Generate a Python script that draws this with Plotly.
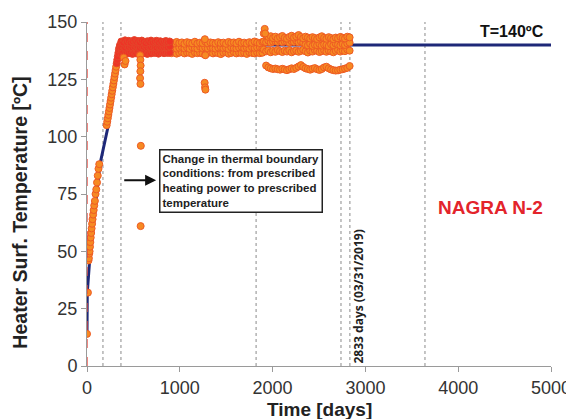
import plotly.graph_objects as go

# ---------------- data ----------------
model_days = [0, 3, 32, 140, 230, 366, 5000]
model_T = [14, 32, 48, 88, 105, 140, 140]

heat_days = [0, 10, 16, 20, 24, 28, 32, 36, 40, 45, 50, 55, 60, 66, 72, 78, 85, 92, 100, 108, 116, 124, 132]
heat_T = [14, 32, 46, 47, 49, 50, 52, 54, 56, 58, 60, 62, 64, 66, 68, 70, 72, 75, 77, 80, 83, 86, 88]

ramp_days = [212, 218, 224, 230, 236, 242, 248, 254, 260, 266, 272, 278, 284, 290, 296, 302, 308, 314]
ramp_T = [105, 106.5, 108, 109.5, 111, 112.5, 114, 115.5, 117, 118.5, 120, 121.5, 123, 124.5, 126, 127.5, 129, 130.5]

red_ramp_days = [320, 326, 332, 338, 344, 350, 356]
red_ramp_T = [132, 133.5, 135, 136.5, 138, 139, 140]

red_days = [370, 390, 410, 430, 450, 470, 490, 510, 530, 550, 570, 590, 610, 630, 650, 670, 690, 710, 730,
            750, 770, 790, 810, 830, 850, 870, 890]
red_hi = [141.5, 141.0, 142.0, 141.2, 141.8, 140.9, 141.6, 142.1, 141.3, 141.7, 141.0, 141.9, 141.4, 140.8,
          141.6, 141.2, 141.9, 141.0, 141.5, 141.8, 141.1, 141.6, 140.9, 141.4, 141.7, 141.2, 141.5]
red_mid = [139.0, 139.4, 138.8, 139.6, 139.1, 139.5, 138.9, 139.3, 139.7, 139.0, 138.7, 139.4, 139.2, 139.6,
           138.9, 139.3, 139.0, 139.5, 139.1, 138.8, 139.4, 139.2, 139.6, 139.0, 139.3, 138.9, 139.4]
red_lo = [136.3, 136.9, 136.0, 136.6, 136.4, 137.0, 136.1, 136.8, 136.3, 137.1, 136.2, 136.7, 136.4, 136.9,
          136.1, 136.6, 136.3, 137.0, 136.5, 136.8, 136.2, 136.7, 136.9, 136.4, 136.8, 136.5, 136.7]

orange_days = [910, 938, 966, 994, 1022, 1050, 1078, 1106, 1134, 1162, 1190, 1218, 1246, 1274, 1302, 1330,
               1358, 1386, 1414, 1442, 1470, 1498, 1526, 1554, 1582, 1610, 1638, 1666, 1694, 1722, 1750,
               1778, 1806, 1834, 1862, 1890]
orange_hi = [141.0, 140.6, 141.3, 140.8, 141.1, 140.5, 141.2, 140.9, 140.7, 141.4, 140.6, 141.0, 140.8, 141.5,
             140.7, 141.1, 140.9, 140.6, 141.2, 140.8, 141.0, 140.5, 141.3, 140.9, 141.1, 140.7, 141.4, 140.8,
             141.0, 140.6, 141.2, 140.9, 141.5, 141.1, 140.8, 141.3]
orange_mid = [138.6, 139.0, 138.4, 138.8, 139.1, 138.5, 138.9, 138.3, 139.0, 138.7, 138.4, 139.2, 138.6, 138.9,
              138.5, 139.0, 138.7, 138.4, 138.9, 139.1, 138.6, 138.8, 138.3, 139.0, 138.7, 138.5, 138.9, 139.2,
              138.6, 138.8, 138.4, 139.0, 138.7, 138.9, 139.1, 138.6]
orange_lo = [136.4, 136.8, 136.2, 136.6, 136.9, 136.3, 136.7, 136.5, 136.1, 136.8, 136.4, 136.6, 136.2, 135.8,
             136.5, 136.9, 136.3, 136.7, 136.4, 136.0, 136.6, 136.8, 136.2, 136.5, 136.9, 136.3, 136.7, 136.4,
             136.6, 136.1, 136.8, 136.5, 136.3, 136.7, 136.4, 136.6]

late_days = [1905, 1930, 1955, 1980, 2005, 2030, 2055, 2080, 2105, 2130, 2155, 2180, 2205, 2230, 2255, 2280,
             2305, 2330, 2355, 2380, 2405, 2430, 2455, 2480, 2505, 2530, 2555, 2580, 2605, 2630, 2655, 2680,
             2705, 2730, 2755, 2780, 2805, 2830]
late_hi = [145.0, 144.2, 143.5, 143.8, 143.0, 143.6, 142.8, 143.4, 143.9, 143.1, 142.7, 143.5, 144.0, 143.2,
           143.7, 144.3, 143.5, 142.9, 143.6, 143.2, 142.8, 143.4, 143.0, 142.6, 143.3, 143.8, 143.1, 142.7,
           143.4, 143.0, 142.5, 143.2, 142.9, 143.5, 143.1, 142.8, 143.6, 143.3]
late_mid = [141.5, 141.2, 141.8, 141.0, 141.4, 141.6, 141.3, 141.7, 141.2, 141.5, 141.4, 141.0, 141.6, 141.3,
            141.8, 141.1, 141.5, 140.9, 140.2, 139.8, 140.5, 139.6, 140.1, 139.9, 140.4, 139.7, 140.2, 140.0,
            139.5, 140.3, 139.9, 140.6, 140.1, 139.8, 140.4, 140.0, 140.7, 141.0]
late_lo = [138.0, 137.2, 137.6, 136.8, 137.4, 137.0, 137.8, 137.3, 136.9, 137.5, 137.1, 137.7, 136.8, 137.3,
           137.6, 137.0, 137.4, 137.9, 137.2, 136.7, 137.5, 137.1, 137.8, 137.4, 136.9, 137.3, 137.7, 137.0,
           137.5, 137.2, 136.8, 137.4, 137.9, 137.1, 137.6, 137.3, 138.0, 137.5]

lower_days = [1930, 1955, 1980, 2005, 2030, 2055, 2080, 2105, 2130, 2155, 2180, 2205, 2230, 2255, 2280, 2305,
              2330, 2355, 2380, 2405, 2430, 2455, 2480, 2505, 2530, 2555, 2580, 2605, 2630, 2655, 2680, 2705,
              2730, 2755, 2780, 2805, 2830]
lower_T = [131.0, 130.2, 129.8, 129.5, 129.7, 129.4, 129.2, 129.6, 129.3, 129.0, 129.4, 129.8, 129.5, 130.0,
           130.6, 131.2, 130.4, 129.8, 129.5, 129.2, 129.6, 129.9, 129.4, 129.1, 129.5, 130.2, 130.5, 129.8,
           129.3, 129.0, 128.8, 128.9, 129.2, 129.4, 129.7, 130.0, 130.8]

out_days = [395, 405, 415, 572, 575, 578, 575, 572, 576, 580, 578, 1268, 1272, 1276, 1270, 1275, 1915, 1920]
out_T = [134.5, 131.5, 133.0, 135.5, 133.5, 131.0, 128.5, 125.5, 123.0, 96.0, 61.0, 123.5, 121.5, 120.5,
         142.5, 135.5, 147.0, 145.0]

vline_days = [172, 366, 1822, 2737, 2833, 3642]
x_ticks = [0, 1000, 2000, 3000, 4000, 5000]
y_ticks = [0, 25, 50, 75, 100, 125, 150]

# ---------------- styles ----------------
ORANGE = dict(color="#f68a22", size=7, line=dict(color="#ee5a24", width=1))
RED = dict(color="#ee3326", size=7, line=dict(color="#e5452b", width=1))
FONT = "Liberation Sans, Arial, sans-serif"

fig = go.Figure()

fig.add_trace(go.Scatter(x=model_days, y=model_T, mode="lines",
                         line=dict(color="#1e2878", width=3), hoverinfo="skip"))

def add_pts(x, y, style):
    fig.add_trace(go.Scatter(x=x, y=y, mode="markers", marker=style, hoverinfo="skip"))

add_pts(heat_days, heat_T, ORANGE)
add_pts(ramp_days, ramp_T, ORANGE)
add_pts(red_ramp_days, red_ramp_T, RED)
add_pts(orange_days, orange_lo, ORANGE)
add_pts(orange_days, orange_mid, ORANGE)
add_pts(orange_days, orange_hi, ORANGE)
add_pts(late_days, late_lo, ORANGE)
add_pts(late_days, late_mid, ORANGE)
add_pts(late_days, late_hi, ORANGE)
add_pts(lower_days, lower_T, ORANGE)
add_pts(red_days, red_lo, RED)
add_pts(red_days, red_mid, RED)
add_pts(red_days, red_hi, RED)
add_pts(out_days, out_T, ORANGE)

shapes = []
for d in vline_days:
    shapes.append(dict(type="line", xref="x", yref="y", x0=d, x1=d, y0=0, y1=150,
                       line=dict(color="#8a8a8a", width=1, dash="dot"), layer="below"))
shapes.append(dict(type="line", xref="x", yref="y", x0=0, x1=0, y0=0, y1=150,
                   line=dict(color="#e5483e", width=1.3, dash="dash"), layer="above"))

annotations = [
    dict(text="<b>T=140ºC</b>", x=4580, y=145.8, xref="x", yref="y", showarrow=False,
         font=dict(family=FONT, size=16, color="#111")),
    dict(text="<b>NAGRA N-2</b>", x=4345, y=69, xref="x", yref="y", showarrow=False,
         font=dict(family=FONT, size=19, color="#e3242b")),
    dict(text="<b>2833 days (03/31/2019)</b>", x=2925, y=30.5, xref="x", yref="y", showarrow=False,
         textangle=-90, font=dict(family="Open Sans, sans-serif", size=12, color="#222")),
    dict(text="<b>Change in thermal boundary<br>conditions: from prescribed<br>heating power to prescribed<br>temperature</b>",
         x=776, y=80.7, xref="x", yref="y", xanchor="left", yanchor="middle", align="left",
         showarrow=False, bordercolor="#222", borderwidth=1.5, borderpad=2, bgcolor="white",
         font=dict(family=FONT, size=11.5, color="#222")),
    dict(text="", x=745, y=81, ax=385, ay=81, xref="x", yref="y", axref="x", ayref="y",
         showarrow=True, arrowhead=2, arrowsize=1, arrowwidth=2.2, arrowcolor="#111"),
    dict(text="<b>Time [days]</b>", x=0.5, y=-0.125, xref="paper", yref="paper", showarrow=False,
         yanchor="middle", font=dict(family=FONT, size=19, color="#222")),
    dict(text="<b>Heater Surf. Temperature [ºC]</b>", x=-0.145, y=0.445, xref="paper", yref="paper",
         showarrow=False, textangle=-90, xanchor="center", yanchor="middle",
         font=dict(family=FONT, size=19.5, color="#222")),
]

fig.update_layout(
    width=566, height=411,
    margin=dict(l=79, r=23, t=14, b=53, autoexpand=False),
    plot_bgcolor="white", paper_bgcolor="white",
    showlegend=False,
    shapes=shapes, annotations=annotations,
    font=dict(family=FONT),
    xaxis=dict(range=[0, 5000], tickvals=x_ticks, showgrid=False, zeroline=False,
               showline=True, linecolor="#9a9a9a", linewidth=1, ticks="outside", ticklen=5,
               tickcolor="#9a9a9a", tickfont=dict(family=FONT, size=18, color="#333")),
    yaxis=dict(range=[0, 150], tickvals=y_ticks, showgrid=False, zeroline=False,
               showline=True, linecolor="#9a9a9a", linewidth=1, ticks="outside", ticklen=5,
               tickcolor="#9a9a9a", tickfont=dict(family=FONT, size=18, color="#333")),
)

fig.write_html("out.html")
